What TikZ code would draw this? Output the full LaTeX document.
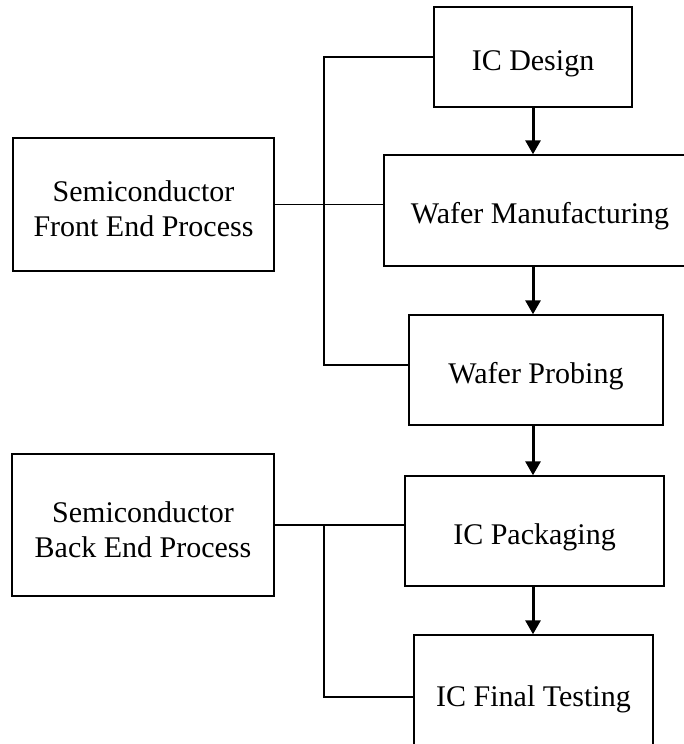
\documentclass[tikz,border=0pt]{standalone}
\usepackage{fontspec}
\setmainfont{Liberation Serif}
\usetikzlibrary{arrows.meta, positioning}

\begin{document}
\begin{tikzpicture}[
    x=1pt, y=-1pt,
    box/.style={rectangle, draw, line width=1.4pt, align=center, inner sep=0pt, font=\fontsize{30}{35}\selectfont},
    oneline/.style={box, text height=26pt, text depth=0pt},
    arrow/.style={-{Triangle[width=15pt,length=14pt]}, line width=3pt},
    link/.style={line width=1.4pt}
]
\useasboundingbox (0,0) rectangle (683,744);

% process chain
\node[oneline, minimum width=198pt, minimum height=100pt] (design) at (533,57) {IC Design};
\node[oneline, minimum width=312pt, minimum height=111pt] (manuf) at (540,210.5) {Wafer Manufacturing};
\node[oneline, minimum width=254pt, minimum height=110pt] (probing) at (536,370) {Wafer Probing};
\node[oneline, minimum width=259pt, minimum height=110pt] (pack) at (534.5,531) {IC Packaging};
\node[oneline, minimum width=239pt, minimum height=116pt] (final) at (533.5,693) {IC Final Testing};

% the two stages
\node[box, minimum width=261pt, minimum height=133pt] (front) at (143.5,204.5) {\rule{0pt}{30pt}Semiconductor\\Front End Process};
\node[box, minimum width=262pt, minimum height=142pt] (back) at (143,525) {\rule{0pt}{30pt}Semiconductor\\Back End Process};

\coordinate (frontbus) at (324,57);
\coordinate (backbus) at (324,524);

\draw[arrow] (design.south) -- (design.south |- manuf.north);
\draw[arrow] (manuf.south -| design.south) -- (probing.north -| design.south);
\draw[arrow] (probing.south -| design.south) -- (pack.north -| design.south);
\draw[arrow] (pack.south -| design.south) -- (final.north -| design.south);

\draw[link] (design.west) -- (frontbus) |- ([yshift=5pt]probing.west);
\draw[link] (front.east) -- (front.east -| manuf.west);
\draw[link] (back.east) -- (back.east -| pack.west);
\draw[link] (backbus) |- ([yshift=-4pt]final.west);
\end{tikzpicture}
\end{document}
